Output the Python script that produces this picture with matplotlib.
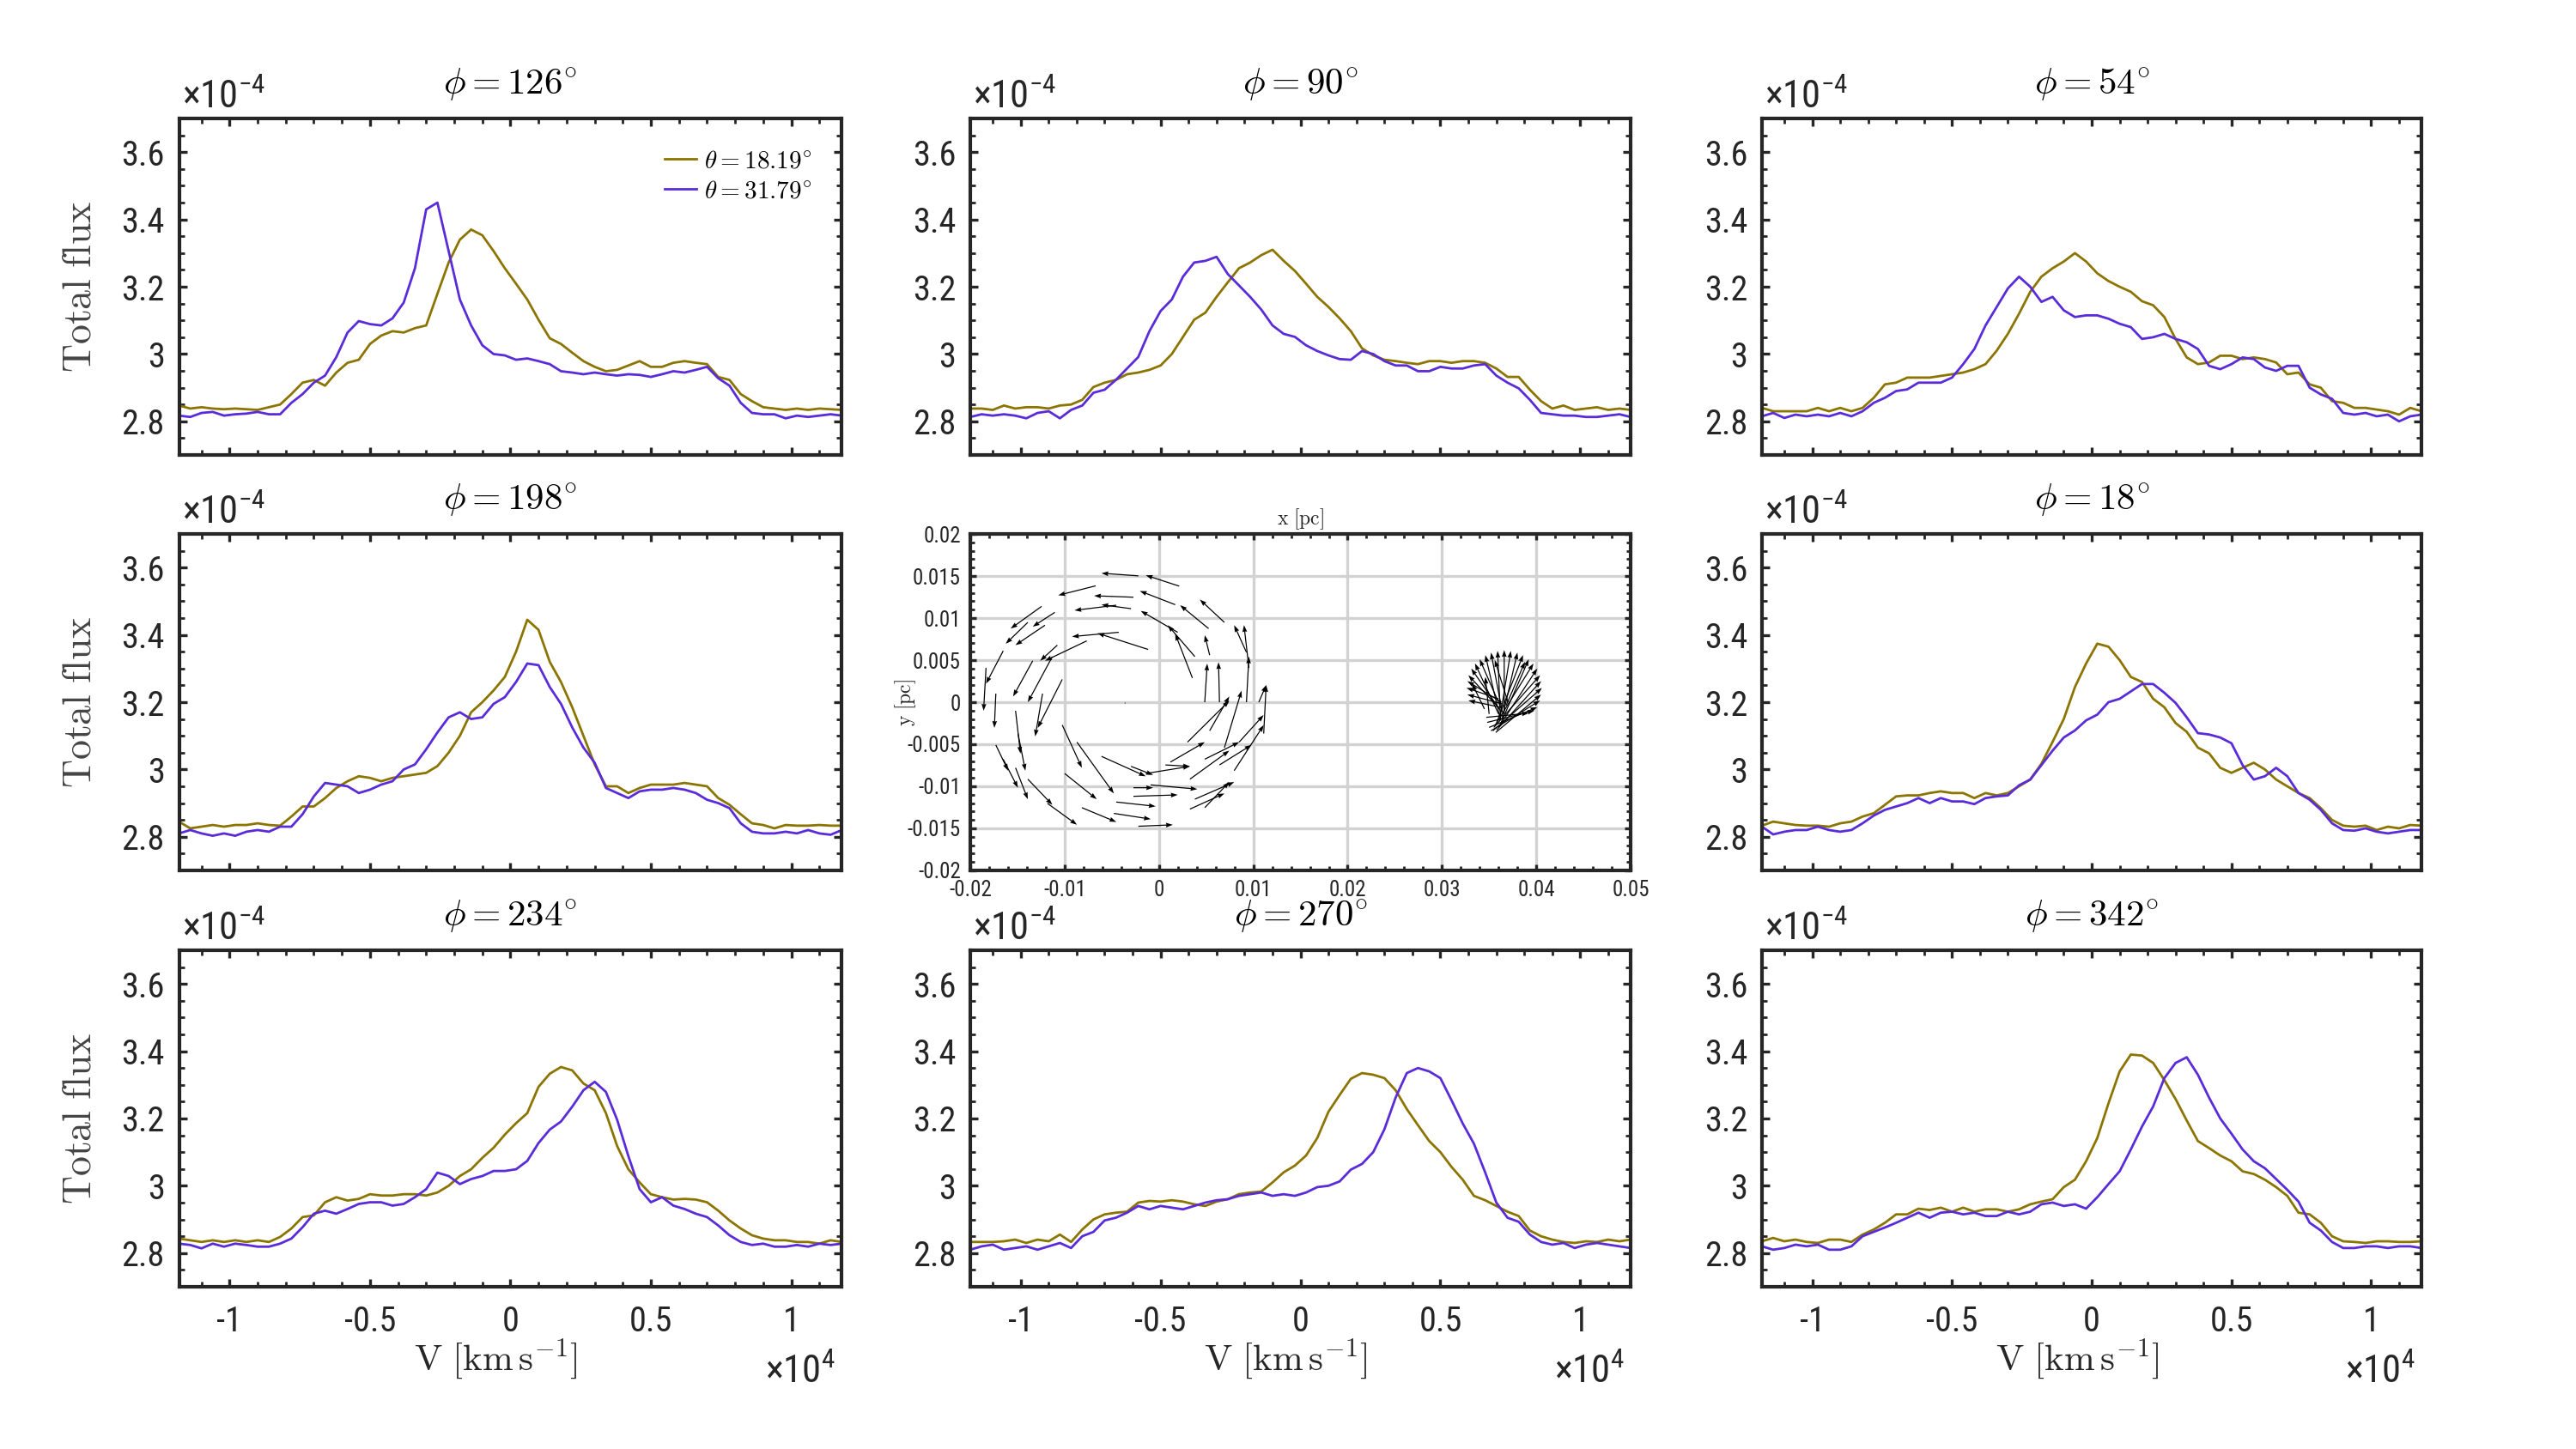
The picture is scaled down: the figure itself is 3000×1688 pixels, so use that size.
import numpy as np
import matplotlib
matplotlib.use("Agg")
import matplotlib.pyplot as plt
from matplotlib.ticker import MultipleLocator
from matplotlib import font_manager

# ---------------- data ----------------
V = np.arange(-11800, 11801, 400)  # velocity grid, km/s (60 channels)

f18_126 = [2.847,2.838,2.842,2.838,2.836,2.838,2.836,2.834,2.842,2.850,
           2.881,2.915,2.923,2.906,2.945,2.974,2.983,3.030,3.055,3.068,
           3.064,3.077,3.085,3.179,3.272,3.340,3.370,3.353,3.306,3.255,
           3.209,3.162,3.102,3.047,3.030,3.004,2.979,2.962,2.949,2.953,
           2.966,2.979,2.962,2.962,2.974,2.979,2.974,2.970,2.932,2.923,
           2.881,2.860,2.842,2.838,2.834,2.838,2.834,2.838,2.836,2.834]
f31_126 = [2.817,2.813,2.825,2.828,2.817,2.821,2.823,2.828,2.821,2.821,
           2.855,2.881,2.915,2.936,2.991,3.064,3.098,3.089,3.085,3.106,
           3.153,3.255,3.430,3.450,3.306,3.162,3.085,3.026,3.000,2.996,
           2.983,2.987,2.979,2.970,2.949,2.945,2.940,2.945,2.940,2.936,
           2.940,2.938,2.932,2.940,2.949,2.945,2.953,2.962,2.928,2.906,
           2.855,2.825,2.821,2.821,2.809,2.817,2.813,2.817,2.821,2.817]

f18_90 = [2.838,2.838,2.834,2.847,2.838,2.842,2.842,2.838,2.847,2.850,
          2.864,2.902,2.915,2.923,2.940,2.945,2.953,2.966,3.000,3.051,
          3.102,3.123,3.170,3.213,3.255,3.272,3.294,3.310,3.277,3.247,
          3.209,3.170,3.140,3.106,3.068,3.017,2.996,2.983,2.979,2.974,
          2.970,2.979,2.979,2.974,2.979,2.979,2.974,2.957,2.932,2.932,
          2.894,2.860,2.838,2.847,2.834,2.838,2.842,2.834,2.838,2.834]
f31_90 = [2.813,2.821,2.817,2.821,2.817,2.809,2.825,2.830,2.809,2.834,
          2.847,2.885,2.894,2.923,2.957,2.991,3.068,3.128,3.162,3.230,
          3.272,3.277,3.289,3.238,3.204,3.170,3.132,3.085,3.060,3.051,
          3.026,3.009,2.996,2.985,2.983,3.009,3.000,2.979,2.966,2.966,
          2.949,2.949,2.962,2.957,2.957,2.966,2.970,2.936,2.915,2.898,
          2.864,2.825,2.821,2.817,2.817,2.813,2.813,2.817,2.821,2.813]

f18_54 = [2.840,2.830,2.830,2.830,2.830,2.840,2.830,2.840,2.830,2.840,
          2.870,2.910,2.915,2.930,2.930,2.930,2.935,2.940,2.945,2.955,
          2.970,3.010,3.060,3.120,3.185,3.230,3.255,3.275,3.300,3.275,
          3.240,3.217,3.200,3.185,3.157,3.145,3.110,3.045,2.990,2.970,
          2.975,2.995,2.995,2.985,2.990,2.985,2.975,2.940,2.945,2.910,
          2.900,2.860,2.855,2.840,2.840,2.835,2.830,2.820,2.840,2.830]
f31_54 = [2.815,2.825,2.810,2.820,2.815,2.820,2.815,2.825,2.815,2.830,
          2.855,2.870,2.890,2.895,2.915,2.915,2.915,2.930,2.970,3.015,
          3.085,3.140,3.195,3.230,3.200,3.155,3.170,3.130,3.110,3.115,
          3.115,3.105,3.090,3.080,3.045,3.050,3.060,3.045,3.035,3.015,
          2.965,2.955,2.970,2.990,2.985,2.960,2.950,2.965,2.965,2.900,
          2.880,2.867,2.825,2.820,2.825,2.815,2.820,2.800,2.815,2.820]

f18_198 = [2.845,2.825,2.830,2.835,2.830,2.835,2.835,2.840,2.835,2.833,
           2.860,2.890,2.890,2.915,2.945,2.965,2.980,2.975,2.965,2.975,
           2.980,2.985,2.990,3.010,3.050,3.100,3.170,3.200,3.235,3.275,
           3.350,3.445,3.415,3.320,3.260,3.185,3.100,3.015,2.950,2.950,
           2.930,2.945,2.955,2.955,2.955,2.960,2.955,2.950,2.915,2.895,
           2.867,2.840,2.835,2.825,2.835,2.833,2.833,2.835,2.833,2.833]
f31_198 = [2.810,2.820,2.810,2.803,2.810,2.803,2.815,2.820,2.815,2.830,
           2.830,2.867,2.920,2.960,2.955,2.950,2.930,2.940,2.955,2.965,
           3.000,3.015,3.060,3.110,3.155,3.170,3.150,3.155,3.195,3.215,
           3.260,3.315,3.310,3.245,3.195,3.125,3.065,3.020,2.945,2.930,
           2.915,2.935,2.940,2.940,2.945,2.940,2.930,2.910,2.900,2.885,
           2.840,2.815,2.810,2.810,2.815,2.810,2.820,2.810,2.806,2.820]

f18_18 = [2.833,2.845,2.840,2.835,2.833,2.833,2.830,2.840,2.845,2.860,
          2.870,2.895,2.920,2.923,2.923,2.930,2.935,2.930,2.930,2.915,
          2.930,2.923,2.930,2.950,2.970,3.017,3.082,3.150,3.245,3.315,
          3.374,3.365,3.325,3.275,3.260,3.210,3.185,3.138,3.112,3.065,
          3.048,3.005,2.990,3.005,3.020,3.000,2.970,2.950,2.930,2.915,
          2.885,2.850,2.833,2.830,2.833,2.820,2.830,2.825,2.835,2.833]
f31_18 = [2.830,2.807,2.815,2.820,2.820,2.830,2.820,2.815,2.820,2.840,
          2.863,2.880,2.890,2.900,2.915,2.900,2.915,2.905,2.905,2.897,
          2.915,2.920,2.923,2.953,2.970,3.013,3.056,3.095,3.116,3.146,
          3.163,3.200,3.210,3.232,3.254,3.254,3.228,3.198,3.155,3.108,
          3.104,3.095,3.078,3.013,2.970,2.980,3.005,2.980,2.930,2.910,
          2.880,2.840,2.820,2.818,2.825,2.815,2.810,2.815,2.820,2.820]

f18_234 = [2.843,2.838,2.833,2.838,2.833,2.838,2.833,2.838,2.833,2.848,
           2.873,2.907,2.912,2.951,2.966,2.956,2.961,2.975,2.971,2.971,
           2.975,2.975,2.971,2.980,3.000,3.029,3.049,3.083,3.113,3.152,
           3.186,3.216,3.294,3.333,3.353,3.343,3.304,3.284,3.216,3.118,
           3.049,3.010,2.975,2.966,2.959,2.961,2.959,2.951,2.926,2.897,
           2.873,2.853,2.843,2.838,2.838,2.833,2.833,2.828,2.838,2.833]
f31_234 = [2.828,2.824,2.814,2.828,2.819,2.828,2.824,2.819,2.819,2.828,
           2.843,2.877,2.917,2.926,2.917,2.931,2.946,2.951,2.951,2.941,
           2.946,2.966,2.990,3.039,3.029,3.005,3.020,3.029,3.044,3.044,
           3.049,3.074,3.127,3.167,3.191,3.235,3.284,3.309,3.279,3.196,
           3.088,2.990,2.951,2.966,2.941,2.931,2.917,2.907,2.882,2.853,
           2.833,2.824,2.828,2.819,2.819,2.824,2.819,2.828,2.824,2.828]

f18_270 = [2.833,2.833,2.833,2.835,2.840,2.830,2.840,2.835,2.855,2.833,
           2.870,2.900,2.915,2.920,2.923,2.950,2.955,2.953,2.957,2.953,
           2.945,2.940,2.953,2.960,2.975,2.980,2.983,3.010,3.040,3.060,
           3.090,3.142,3.220,3.270,3.318,3.335,3.330,3.320,3.284,3.228,
           3.180,3.133,3.100,3.056,3.018,2.970,2.957,2.940,2.923,2.910,
           2.867,2.850,2.840,2.833,2.830,2.835,2.833,2.840,2.835,2.840]
f31_270 = [2.810,2.820,2.825,2.810,2.815,2.820,2.810,2.820,2.830,2.815,
           2.850,2.863,2.897,2.905,2.920,2.940,2.930,2.940,2.935,2.930,
           2.940,2.950,2.957,2.960,2.970,2.975,2.980,2.970,2.975,2.970,
           2.980,2.996,3.000,3.013,3.048,3.065,3.100,3.168,3.262,3.335,
           3.350,3.340,3.320,3.254,3.185,3.125,3.040,2.950,2.905,2.893,
           2.855,2.833,2.825,2.830,2.815,2.825,2.830,2.825,2.820,2.815]

f18_342 = [2.835,2.845,2.835,2.840,2.833,2.830,2.840,2.840,2.833,2.855,
           2.870,2.890,2.915,2.915,2.932,2.928,2.935,2.923,2.935,2.923,
           2.930,2.930,2.923,2.930,2.945,2.953,2.960,2.996,3.018,3.073,
           3.142,3.245,3.340,3.390,3.387,3.365,3.314,3.258,3.194,3.133,
           3.112,3.090,3.073,3.043,3.035,3.018,2.996,2.970,2.920,2.915,
           2.890,2.850,2.835,2.833,2.830,2.835,2.835,2.833,2.833,2.835]
f31_342 = [2.820,2.810,2.815,2.825,2.820,2.825,2.810,2.810,2.820,2.850,
           2.863,2.876,2.890,2.905,2.920,2.905,2.920,2.923,2.915,2.920,
           2.910,2.910,2.923,2.915,2.923,2.945,2.950,2.940,2.945,2.932,
           2.966,3.005,3.043,3.108,3.176,3.236,3.320,3.365,3.382,3.330,
           3.262,3.200,3.155,3.108,3.073,3.052,3.020,2.988,2.953,2.890,
           2.867,2.833,2.815,2.815,2.820,2.820,2.815,2.820,2.820,2.815]

phi_labels = ["126", "90", "54", "198", None, "18", "234", "270", "342"]
theta_labels = ["18.19", "31.79"]

# velocity-field arrows (tail x, tail y, u, v) in pc
ring_x = [-0.00219, 0.00214, -0.00672, -0.00271, 0.00172, 0.00693, -0.00453, -0.00297, 0.00198, 0.00526,
          -0.01245, -0.01105, -0.00427, -0.00115, 0.00927, 0.00537, 0.00380, 0.00354, -0.00766, -0.01078,
          -0.01209, -0.01391, -0.01652, -0.01339, -0.01131, -0.01026, -0.01235, -0.01730, -0.01834, -0.01521,
          -0.01730, -0.01652, -0.01521, -0.01391, -0.01183, -0.01495, -0.01026, -0.00870, -0.00610, -0.01000,
          -0.00818, -0.00453, -0.00479, -0.00219, -0.00271, -0.00297, -0.00141, 0.00068, 0.00328, -0.00089,
          0.00380, -0.00271, 0.00302, 0.00120, 0.00328, 0.00485, 0.00641, 0.00693, 0.00849, 0.00797,
          0.00927, 0.01058, 0.00485, 0.00641, 0.00953, 0.00537, 0.01110, 0.00485, -0.00360]
ring_y = [0.01502, 0.01380, 0.01383, 0.01248, 0.01159, 0.00949, 0.01153, 0.01112, 0.00831, 0.00875,
          0.01139, 0.01068, 0.00831, 0.00627, 0.00593, 0.00559, 0.00542, 0.00288, 0.00729, 0.00678,
          0.00915, 0.00949, 0.00610, 0.00492, 0.00542, 0.00271, 0.00102, 0.00102, 0.00407, -0.00102,
          -0.00509, -0.00678, -0.00780, -0.00915, -0.01203, -0.00373, -0.00271, -0.00475, -0.00644, -0.00848,
          -0.01254, -0.01187, -0.01322, -0.01475, -0.01119, -0.00763, -0.00848, -0.00746, -0.01271, -0.00983,
          -0.01153, -0.01017, -0.00475, -0.00712, -0.00915, -0.00678, -0.00746, -0.00542, -0.00475, -0.00814,
          0.00000, 0.00000, 0.00000, 0.00000, 0.00407, -0.00339, -0.00373, -0.01254, -0.00010]
ring_u = [-0.00391, -0.00354, -0.00396, -0.00417, -0.00375, -0.00260, -0.00443, -0.00313, -0.00391, -0.00302,
          -0.00328, -0.00234, -0.00495, -0.00537, -0.00130, -0.00052, -0.00287, -0.00182, -0.00443, -0.00182,
          -0.00313, -0.00234, -0.00182, -0.00208, -0.00260, -0.00260, -0.00078, -0.00016, -0.00026, 0.00052,
          0.00130, 0.00156, 0.00130, 0.00260, 0.00313, 0.00078, 0.00208, 0.00391, 0.00469, 0.00339,
          0.00365, 0.00417, 0.00391, 0.00365, 0.00469, 0.00234, 0.00469, 0.00260, 0.00365, 0.00495,
          0.00417, 0.00208, 0.00443, 0.00365, 0.00417, 0.00365, 0.00339, 0.00182, 0.00260, 0.00313,
          0.00026, 0.00078, 0.00026, -0.00010, -0.00052, 0.00208, 0.00026, 0.00260, 0.00010]
ring_v = [0.00031, 0.00129, -0.00112, 0.00017, 0.00163, 0.00271, -0.00061, 0.00047, 0.00254, 0.00278,
          -0.00264, -0.00170, -0.00051, 0.00193, 0.00322, 0.00237, 0.00373, 0.00525, -0.00237, -0.00186,
          -0.00237, -0.00254, -0.00390, -0.00424, -0.00542, -0.00576, -0.00509, -0.00407, -0.00509, -0.00509,
          -0.00305, -0.00339, -0.00373, -0.00305, -0.00254, -0.00441, -0.00509, -0.00610, -0.00237, -0.00305,
          -0.00170, -0.00051, -0.00068, 0.00017, 0.00017, -0.00102, 0.00085, -0.00017, 0.00186, -0.00051,
          0.00203, 0.00000, 0.00492, 0.00237, 0.00339, 0.00203, 0.00237, 0.00678, 0.00322, 0.00542,
          0.00542, 0.00203, 0.00458, 0.00475, 0.00509, 0.00407, 0.00576, 0.00305, 0.00000]

clump_x = [0.0362, 0.0364, 0.0360, 0.0363, 0.0358, 0.0362, 0.0360, 0.0363, 0.0361, 0.0364,
           0.0362, 0.0366, 0.0361, 0.0364, 0.0358, 0.0362, 0.0356, 0.0360, 0.0355, 0.0358,
           0.0354, 0.0357, 0.0352, 0.0350, 0.0348, 0.0347, 0.0350, 0.0345, 0.0370, 0.0368]
clump_y = [-0.0006, -0.0002, 0.0004, 0.0000, -0.0004, -0.0010, -0.0014, -0.0008, -0.0016, -0.0012,
           -0.0020, -0.0014, -0.0022, -0.0018, -0.0024, -0.0026, -0.0028, -0.0030, -0.0030, -0.0033,
           -0.0034, -0.0036, -0.0034, -0.0030, -0.0024, -0.0018, -0.0014, -0.0008, 0.0000, -0.0004]
clump_u = [-0.0034, -0.0037, -0.0034, -0.0036, -0.0030, -0.0031, -0.0025, -0.0023, -0.0015, -0.0012,
           -0.0003, 0.0000, 0.0012, 0.0016, 0.0028, 0.0030, 0.0041, 0.0041, 0.0049, 0.0047,
           0.0052, 0.0048, 0.0052, 0.0051, 0.0050, 0.0045, -0.0004, -0.0013, -0.0014, 0.0020]
clump_v = [0.0008, 0.0011, 0.0013, 0.0025, 0.0036, 0.0050, 0.0060, 0.0059, 0.0072, 0.0071,
           0.0081, 0.0076, 0.0083, 0.0077, 0.0080, 0.0077, 0.0074, 0.0070, 0.0062, 0.0058,
           0.0051, 0.0045, 0.0036, 0.0024, 0.0014, 0.0005, 0.0044, 0.0030, 0.0050, 0.0052]

series = {
    "126": (f18_126, f31_126), "90": (f18_90, f31_90), "54": (f18_54, f31_54),
    "198": (f18_198, f31_198), "18": (f18_18, f31_18),
    "234": (f18_234, f31_234), "270": (f18_270, f31_270), "342": (f18_342, f31_342),
}

# ---------------- style ----------------
avail = {f.name for f in font_manager.fontManager.ttflist}
NARROW = "Liberation Sans"
for cand in ["Liberation Sans Narrow", "Roboto Condensed", "Open Sans Condensed", "Liberation Sans"]:
    if cand in avail:
        NARROW = cand
        break

plt.rcParams["mathtext.fontset"] = "cm"
plt.rcParams["mathtext.rm"] = NARROW
plt.rcParams["mathtext.it"] = NARROW
plt.rcParams["mathtext.bf"] = NARROW
plt.rcParams["mathtext.sf"] = NARROW
plt.rcParams["axes.unicode_minus"] = False
plt.rcParams["font.family"] = [NARROW, "DejaVu Sans"]

OLIVE = "#8c7400"
BLUE = "#5a2bd9"
AXC = "#262626"

fig = plt.figure(figsize=(15, 8.44), dpi=200)

lefts = [0.0695, 0.3767, 0.6840]
widths = [0.2573, 0.2563, 0.2560]
bottoms = [0.6860, 0.3993, 0.1120]
H = 0.2322

Vs = V / 1e4


def style_axes(ax):
    for s in ax.spines.values():
        s.set_linewidth(1.5)
        s.set_color(AXC)
    ax.tick_params(which="both", direction="in", top=True, right=True, color=AXC)
    ax.tick_params(which="major", length=3.4, width=1.2)
    ax.tick_params(which="minor", length=2.3, width=1.0)


for idx in range(9):
    r, c = divmod(idx, 3)
    ax = fig.add_axes([lefts[c], bottoms[r], widths[c], H])
    style_axes(ax)
    phi = phi_labels[idx]
    if phi is None:
        # velocity field panel
        ax.set_xlim(-0.02, 0.05)
        ax.set_ylim(-0.02, 0.02)
        xt = [-0.02, -0.01, 0, 0.01, 0.02, 0.03, 0.04, 0.05]
        yt = [-0.02, -0.015, -0.01, -0.005, 0, 0.005, 0.01, 0.015, 0.02]
        ax.set_xticks(xt)
        ax.set_xticklabels(["-0.02", "-0.01", "0", "0.01", "0.02", "0.03", "0.04", "0.05"])
        ax.set_yticks(yt)
        ax.set_yticklabels(["-0.02", "-0.015", "-0.01", "-0.005", "0", "0.005", "0.01", "0.015", "0.02"])
        ax.xaxis.set_minor_locator(MultipleLocator(0.002))
        ax.yaxis.set_minor_locator(MultipleLocator(0.001))
        ax.tick_params(which="major", length=2.6, labelsize=9, pad=4, labelcolor=AXC)
        ax.tick_params(which="minor", length=1.8)
        ax.grid(True, which="major", color="#d2d2d2", linewidth=1.2)
        ax.set_axisbelow(True)
        qkw = dict(angles="xy", scale_units="xy", scale=1, color="k", width=0.0016,
                   headwidth=4.5, headlength=6.5, headaxislength=6, zorder=3)
        ax.quiver(ring_x, ring_y, ring_u, ring_v, **qkw)
        ax.quiver(clump_x, clump_y, clump_u, clump_v, **qkw)
        ax.text(0.5, 1.045, r"$\mathrm{x\ [pc]}$", transform=ax.transAxes,
                ha="center", va="center", fontsize=8.5, color=AXC)
        ax.text(-0.098, 0.5, r"$\mathrm{y\ [pc]}$", transform=ax.transAxes, rotation=90,
                ha="center", va="center", fontsize=8.5, color=AXC)
        continue

    y18, y31 = series[phi]
    ax.plot(Vs, y18, color=OLIVE, lw=1.0, label=r"$\theta = %s^{\circ}$" % theta_labels[0])
    ax.plot(Vs, y31, color=BLUE, lw=1.0, label=r"$\theta = %s^{\circ}$" % theta_labels[1])
    ax.set_xlim(-1.18, 1.18)
    ax.set_ylim(2.7, 3.7)
    ax.set_xticks([-1, -0.5, 0, 0.5, 1])
    ax.set_yticks([2.8, 3.0, 3.2, 3.4, 3.6])
    ax.set_yticklabels(["2.8", "3", "3.2", "3.4", "3.6"])
    ax.xaxis.set_minor_locator(MultipleLocator(0.1))
    ax.yaxis.set_minor_locator(MultipleLocator(0.05))
    ax.tick_params(axis="y", labelsize=14.5, pad=6, labelcolor=AXC)
    ax.tick_params(axis="x", labelsize=14.5, pad=7.5, labelcolor=AXC)
    if r == 2:
        ax.set_xticklabels(["-1", "-0.5", "0", "0.5", "1"])
        ax.text(0.478, -0.217, r"$\mathrm{V\ [km\,s^{-1}]}$", transform=ax.transAxes,
                ha="center", va="center", fontsize=15.5, color=AXC)
        ax.text(0.99, -0.286, r"$\times\mathrm{10}^{\mathrm{4}}$", transform=ax.transAxes,
                ha="right", va="baseline", fontsize=16, color=AXC, math_fontfamily="custom")
    else:
        ax.set_xticklabels([])
    # offset label
    ax.text(0.004, 1.030, r"$\times\mathrm{10}^{\mathrm{-4}}$", transform=ax.transAxes,
            ha="left", va="baseline", fontsize=16, color=AXC, math_fontfamily="custom")
    ax.text(0.5, 1.10, r"$\phi = %s^{\circ}$" % phi, transform=ax.transAxes,
            ha="center", va="center", fontsize=15.5, color="k")
    if c == 0:
        ax.text(-0.150, 0.5, r"$\mathrm{Total\ flux}$", transform=ax.transAxes, rotation=90,
                ha="center", va="center", fontsize=16.5, color="#444444")
    if idx == 0:
        ax.legend(loc="upper right", frameon=False, fontsize=10.5, handlelength=1.3,
                  handletextpad=0.3, labelspacing=0.25, borderaxespad=0.4,
                  bbox_to_anchor=(0.985, 0.97))

fig.savefig("out.png", dpi=200, facecolor="white")
